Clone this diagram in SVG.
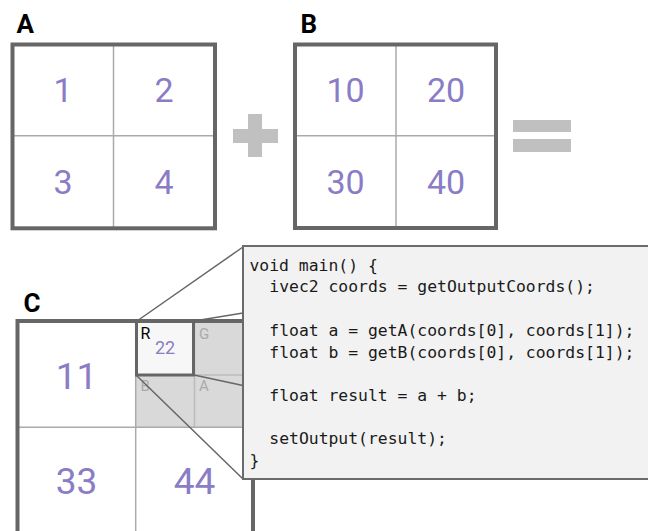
<svg xmlns="http://www.w3.org/2000/svg" width="648" height="531" viewBox="0 0 648 531">
<style>
.outer{fill:none;stroke:#666;stroke-width:4}
.inner{stroke:#aaa;stroke-width:1.5;fill:none}
.num{font-family:Roboto,"Liberation Sans",sans-serif;fill:#8a7cc5;text-anchor:middle}
.lbl{font-family:Roboto,"Liberation Sans",sans-serif;font-weight:bold;font-size:26px;fill:#000}
.ch{font-family:Roboto,"Liberation Sans",sans-serif;font-size:15px;fill:#aaa}
.code{font-family:"DejaVu Sans Mono","Liberation Mono",monospace;font-size:16.4px;fill:#1a1a1a}
.op{fill:#c0c0c0}
.zl{stroke:#666;stroke-width:1.5;fill:none}
</style>
<rect width="648" height="531" fill="#fff"/>
<g id="matrixA">
<text class="lbl" x="16.5" y="33">A</text>
<line class="inner" x1="113.5" y1="44.5" x2="113.5" y2="228.3"/>
<line class="inner" x1="12.5" y1="135.7" x2="215" y2="135.7"/>
<rect class="outer" x="12.5" y="44.5" width="202.5" height="183.8"/>
<text class="num" font-size="34" x="63" y="102">1</text>
<text class="num" font-size="34" x="164" y="102">2</text>
<text class="num" font-size="34" x="63" y="194">3</text>
<text class="num" font-size="34" x="164" y="194">4</text>
</g>
<g id="plus">
<rect class="op" x="233" y="129" width="45" height="14"/>
<rect class="op" x="248" y="114" width="14" height="43"/>
</g>
<g id="matrixB">
<text class="lbl" x="300.5" y="33">B</text>
<line class="inner" x1="396" y1="44.5" x2="396" y2="228"/>
<line class="inner" x1="295" y1="135.7" x2="496" y2="135.7"/>
<rect class="outer" x="295" y="44.5" width="201" height="183.5"/>
<text class="num" font-size="34" x="345.5" y="102">10</text>
<text class="num" font-size="34" x="446" y="102">20</text>
<text class="num" font-size="34" x="345.5" y="194">30</text>
<text class="num" font-size="34" x="446" y="194">40</text>
</g>
<g id="equals">
<rect class="op" x="513" y="120" width="58" height="12"/>
<rect class="op" x="513" y="139" width="58" height="13"/>
</g>
<g id="matrixC">
<text class="lbl" x="23.5" y="312">C</text>
<rect x="136" y="321" width="117" height="106" fill="#d9d9d9"/>
<line x1="194.5" y1="321" x2="194.5" y2="427" stroke="#bbb" stroke-width="1.5"/>
<line x1="136" y1="375" x2="253" y2="375" stroke="#bbb" stroke-width="1.5"/>
<line class="inner" x1="135.7" y1="321" x2="135.7" y2="535"/>
<line class="inner" x1="17.5" y1="427.3" x2="253" y2="427.3" stroke-width="2"/>
<rect class="outer" x="17.5" y="321" width="235.5" height="214" stroke-width="3.5"/>
<text class="num" font-size="37" x="76.5" y="388.5">11</text>
<text class="num" font-size="37" x="76.5" y="494">33</text>
<text class="num" font-size="37" x="194.5" y="494">44</text>
<text class="ch" x="199" y="338.5">G</text>
<text class="ch" x="140.5" y="391">B</text>
<text class="ch" x="199" y="391">A</text>
</g>
<g id="cellR">
<rect x="136.5" y="321.5" width="57" height="53.5" fill="#f7f7f7" stroke="#666" stroke-width="3"/>
<text x="140.5" y="338.5" font-family="Roboto,'Liberation Sans',sans-serif" font-size="16" fill="#000">R</text>
<text class="num" font-size="18" x="165" y="354">22</text>
</g>
<g id="connectors">
<line class="zl" x1="137" y1="321" x2="243" y2="247"/>
<line class="zl" x1="194" y1="321" x2="243" y2="313"/>
<line class="zl" x1="194" y1="375" x2="243" y2="385.5"/>
<line class="zl" x1="136" y1="375" x2="243" y2="479"/>
</g>
<g id="code">
<rect x="243" y="246" width="420" height="233" fill="#f2f2f2" stroke="#6b6b6b" stroke-width="2"/>
<text class="code" x="249.5" y="270.7">void main() {</text>
<text class="code" x="269.3" y="292.4">ivec2 coords = getOutputCoords();</text>
<text class="code" x="269.3" y="335.8">float a = getA(coords[0], coords[1]);</text>
<text class="code" x="269.3" y="357.5">float b = getB(coords[0], coords[1]);</text>
<text class="code" x="269.3" y="400.9">float result = a + b;</text>
<text class="code" x="269.3" y="444.3">setOutput(result);</text>
<text class="code" x="249.5" y="466">}</text>
</g>
</svg>
